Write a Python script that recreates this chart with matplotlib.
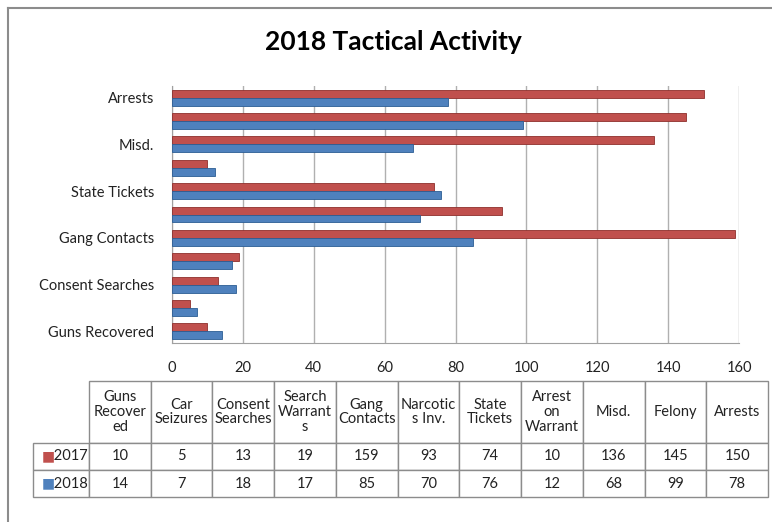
import matplotlib
matplotlib.use("Agg")
import matplotlib.pyplot as plt
import numpy as np
from matplotlib.lines import Line2D

plt.rcParams['font.family'] = ['Lato', 'DejaVu Sans']

categories = ["Guns Recovered", "Car Seizures", "Consent Searches", "Search Warrants",
              "Gang Contacts", "Narcotics Inv.", "State Tickets", "Arrest on Warrant",
              "Misd.", "Felony", "Arrests"]
table_headers = ["Guns\nRecover\ned", "Car\nSeizures", "Consent\nSearches", "Search\nWarrant\ns",
                 "Gang\nContacts", "Narcotic\ns Inv.", "State\nTickets", "Arrest\non\nWarrant",
                 "Misd.", "Felony", "Arrests"]
vals_2017 = [10, 5, 13, 19, 159, 93, 74, 10, 136, 145, 150]
vals_2018 = [14, 7, 18, 17, 85, 70, 76, 12, 68, 99, 78]
series_names = ["2017", "2018"]
red = "#C0504D"
blue = "#4F81BD"

fig = plt.figure(figsize=(7.72, 5.22), dpi=100)

# outer chart frame (only left and top edges are visible)
fx, fy = 8 / 772, 1 - 8 / 522
fig.add_artist(Line2D([fx, fx], [0, fy], transform=fig.transFigure, color="#8c8c8c", lw=1.5))
fig.add_artist(Line2D([fx, 1], [fy, fy], transform=fig.transFigure, color="#8c8c8c", lw=1.5))

fig.text(393 / 772, 1 - 42 / 522, "2018 Tactical Activity", ha="center", va="center",
         fontsize=19, fontweight="bold")

ax = fig.add_axes([172 / 772, 1 - 343 / 522, 567 / 772, 257 / 522])
y = np.arange(len(categories))
h = 0.34
ax.barh(y + h / 2, vals_2017, height=h, color=red, edgecolor="#8e2f2c", linewidth=0.6,
        label=series_names[0], zorder=3)
ax.barh(y - h / 2, vals_2018, height=h, color=blue, edgecolor="#2c5d94", linewidth=0.6,
        label=series_names[1], zorder=3)

ax.set_xlim(0, 160)
ax.set_ylim(-0.5, len(categories) - 0.5)
ax.set_xticks(np.arange(0, 161, 20))
ax.set_yticks(y[::2])
ax.set_yticklabels(categories[::2])
ax.tick_params(axis="both", length=0, labelsize=10.5, colors="#222222")
ax.tick_params(axis="y", pad=13)
ax.tick_params(axis="x", pad=13)
ax.grid(axis="x", color="#b0b0b0", linewidth=1.0, zorder=0)
for s in ["top", "right"]:
    ax.spines[s].set_visible(False)
ax.spines["left"].set_color("#a0a0a0")
ax.spines["bottom"].set_color("#a0a0a0")

# data table below the chart (first column holds the series names)
tax = fig.add_axes([33 / 772, 1 - 497 / 522, 735 / 772, 116 / 522])
tax.axis("off")
rows = [[""] + table_headers,
        ["     " + series_names[0]] + [str(v) for v in vals_2017],
        ["     " + series_names[1]] + [str(v) for v in vals_2018]]
tbl = tax.table(cellText=rows, cellLoc="center", bbox=[0, 0, 1, 1])
tbl.auto_set_font_size(False)
tbl.set_fontsize(10.5)
for (r, c), cell in tbl.get_celld().items():
    cell.set_edgecolor("#8c8c8c")
    cell.set_linewidth(1.0)
    cell.set_width(56 if c == 0 else 61.7)
    cell.set_height(62 if r == 0 else 27)
    cell.get_text().set_color("#222222")
    cell.get_text().set_linespacing(1.05)
    if r == 0 and c == 0:
        cell.visible_edges = ""

# legend keys in the series name cells
tax.text(0.012, 1.5 * 27 / 116, "\u25A0", color=red, fontsize=10, va="center", ha="left",
         family="DejaVu Sans")
tax.text(0.012, 0.5 * 27 / 116, "\u25A0", color=blue, fontsize=10, va="center", ha="left",
         family="DejaVu Sans")

fig.savefig("out.png", dpi=100)
